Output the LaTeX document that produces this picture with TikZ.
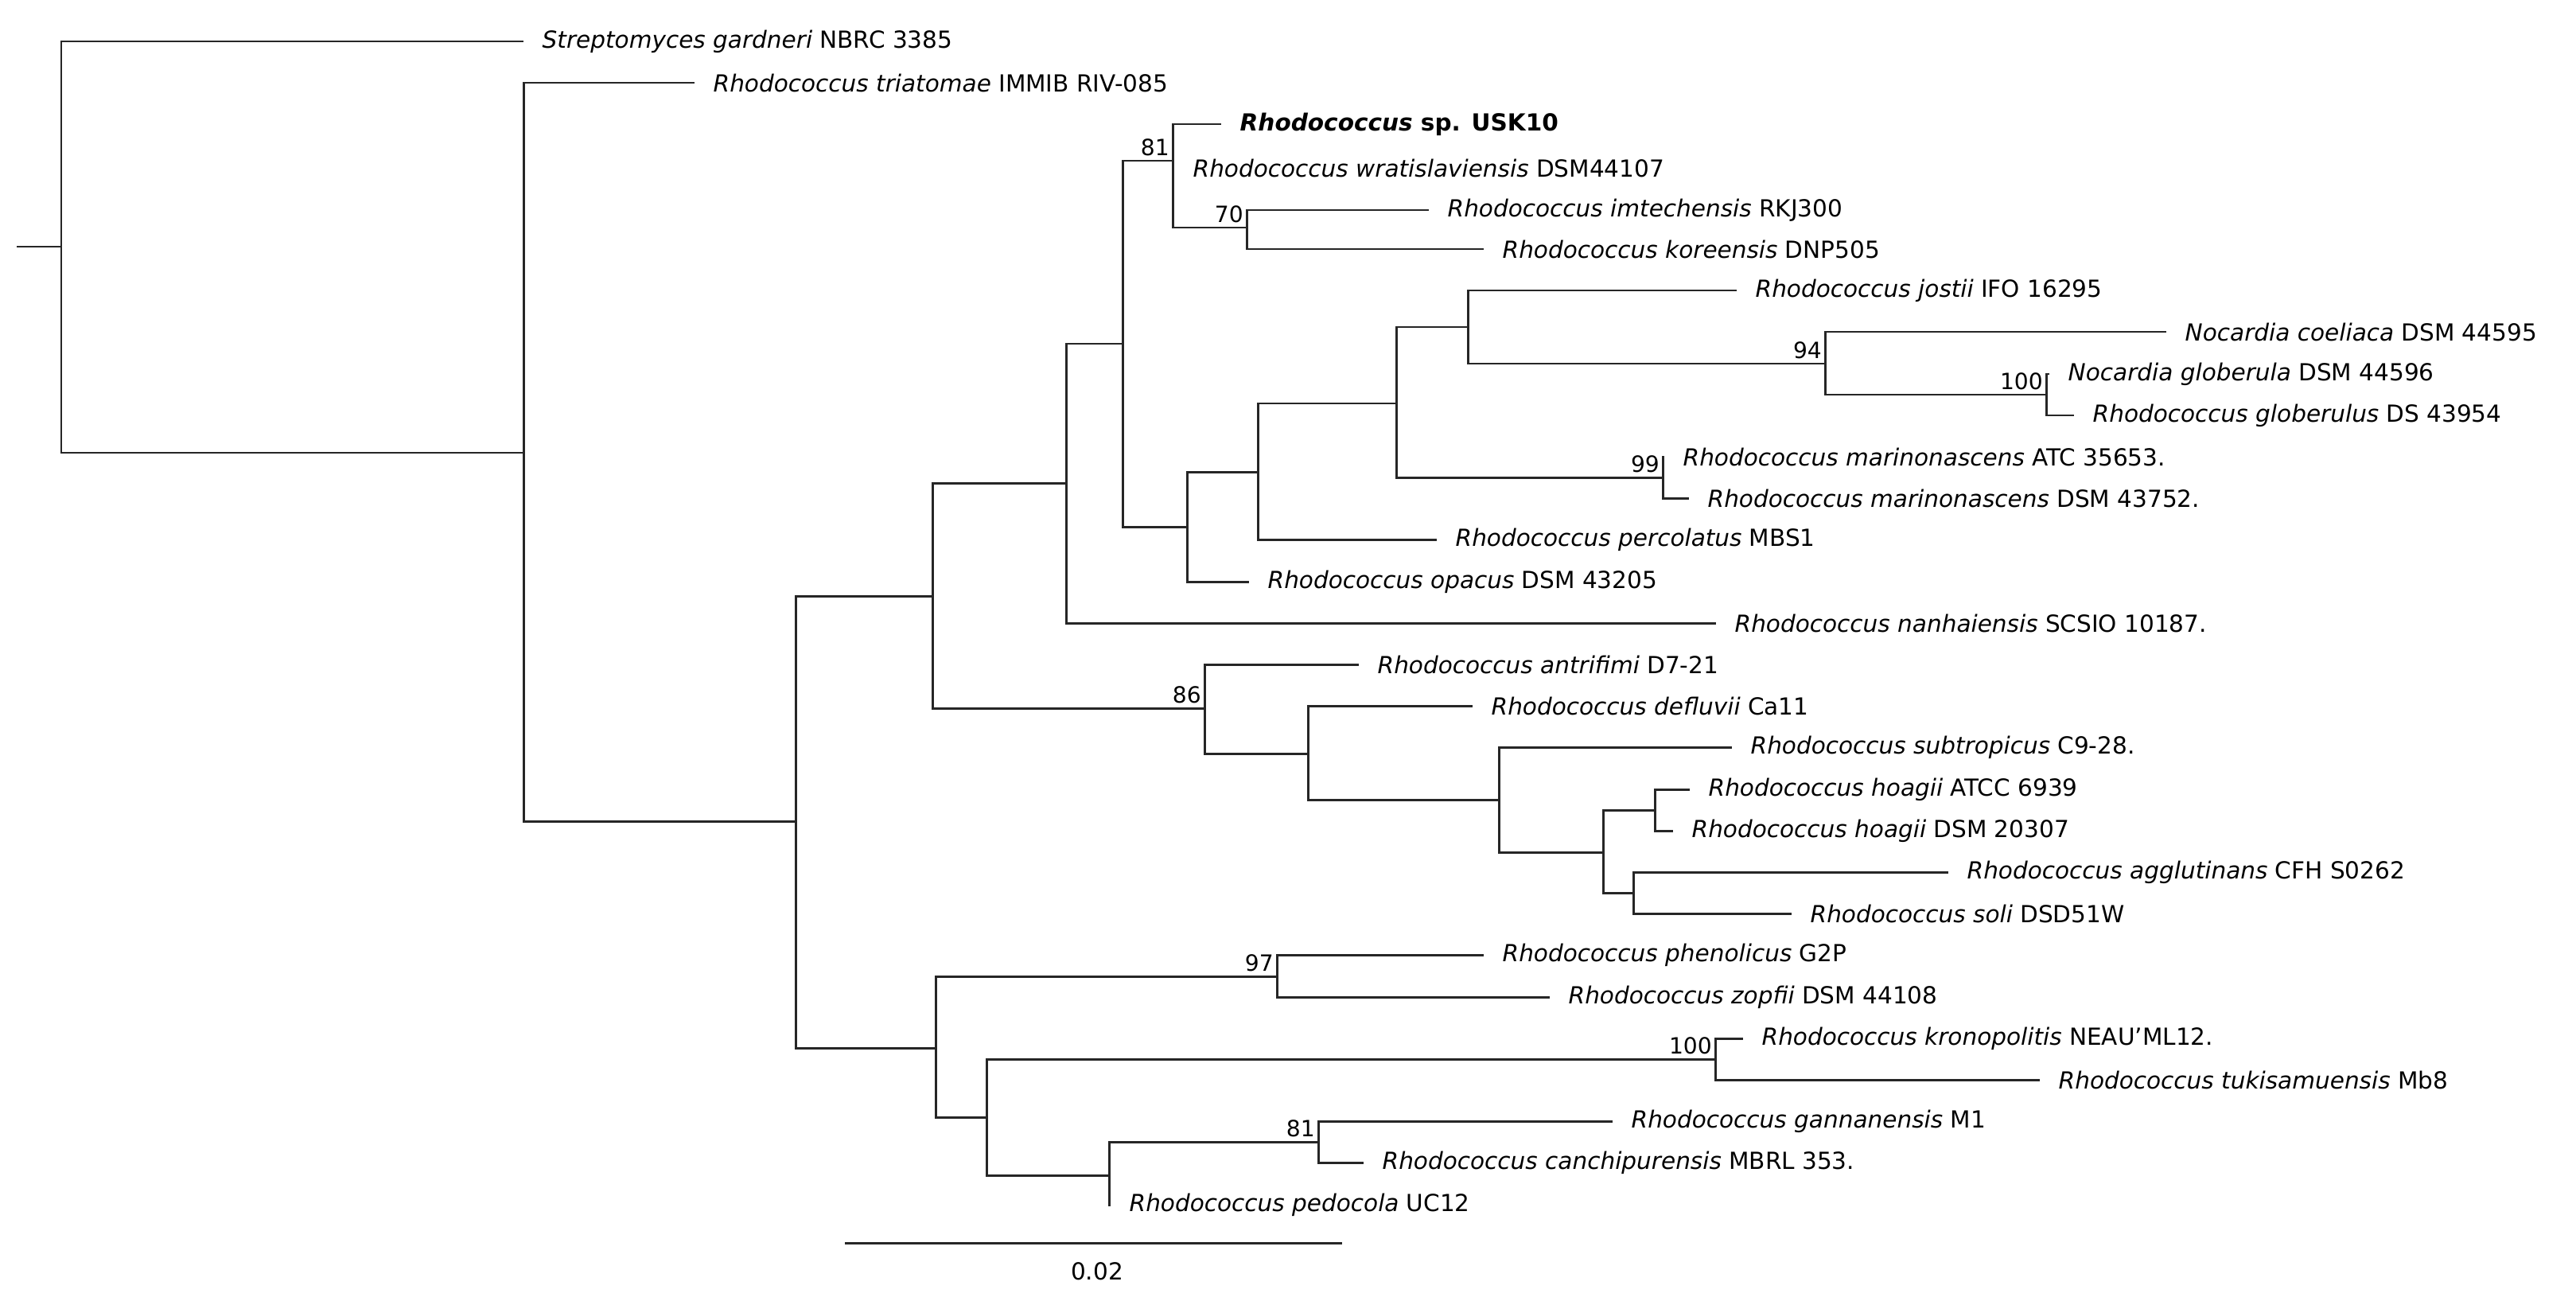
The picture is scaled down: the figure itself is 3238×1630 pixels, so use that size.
\documentclass[tikz,border=0pt]{standalone}
\usepackage{fontspec}
\setmainfont{DejaVu Sans}
\newcommand\lf[5]{%
  \coordinate (#2-e) at (#3,#4);
  \draw[br] (#1) |- (#2-e);
  \node[lab] (#2) at ([xshift=0.23cm]#2-e) {#5};}
\begin{document}
\begin{tikzpicture}[x=0.01cm,y=-0.01cm,
  br/.style={line width=0.85pt,draw=black!85},
  lab/.style={anchor=west,inner sep=0pt,font=\fontsize{8.4}{10}\selectfont},
  bs/.style={anchor=south east,inner sep=0pt,xshift=-1pt,yshift=1.5pt,font=\fontsize{8}{10}\selectfont}]
\useasboundingbox (0,0) rectangle (3238,1630);
% internal nodes
\coordinate (R0) at (21,310);
\coordinate (A) at (77,310);
\coordinate (B) at (658,569);
\coordinate (C) at (1000,1032);
\coordinate (D) at (1172,749);
\coordinate (F) at (1340,607);
\coordinate (H) at (1411,432);
\coordinate (I) at (1474,202);
\coordinate (K) at (1567,286);
\coordinate (J) at (1492,662);
\coordinate (L) at (1581,593);
\coordinate (M) at (1755,507);
\coordinate (N) at (1845,411);
\coordinate (P) at (2294,457);
\coordinate (Q) at (2572,496);
\coordinate (O) at (2090,600);
\coordinate (G) at (1514,890);
\coordinate (R) at (1644,947);
\coordinate (S) at (1884,1005);
\coordinate (T) at (2015,1071);
\coordinate (U) at (2080,1018);
\coordinate (V) at (2053,1122);
\coordinate (E) at (1176,1317);
\coordinate (W) at (1605,1227);
\coordinate (X) at (1240,1404);
\coordinate (Y) at (2156,1331);
\coordinate (Z) at (1394,1477);
\coordinate (AA) at (1657,1435);
% internal branches
\draw[br] (R0) -- (A);
\foreach \p/\c in {A/B,B/C,C/D,C/E,D/F,D/G,F/H,H/I,H/J,I/K,J/L,L/M,M/N,M/O,N/P,P/Q,G/R,R/S,S/T,T/U,T/V,E/W,E/X,X/Y,X/Z,Z/AA}
  \draw[br] (\p) |- (\c);
% leaves
\lf{A}{l0}{658}{52}{\textit{Streptomyces gardneri} NBRC 3385}
\lf{B}{l1}{873}{104}{\textit{Rhodococcus triatomae} IMMIB RIV-085}
\lf{I}{l2}{1535}{156}{\textbf{\textit{Rhodococcus} sp. USK10}}
\lf{I}{l3}{1476}{211}{\textit{Rhodococcus wratislaviensis} DSM44107}
\lf{K}{l4}{1796}{264}{\textit{Rhodococcus imtechensis} RKJ300}
\lf{K}{l5}{1865}{313}{\textit{Rhodococcus koreensis} DNP505}
\lf{N}{l6}{2183}{365}{\textit{Rhodococcus jostii} IFO 16295}
\lf{P}{l7}{2723}{417}{\textit{Nocardia coeliaca} DSM 44595}
\lf{Q}{l8}{2576}{470}{\textit{Nocardia globerula} DSM 44596}
\lf{Q}{l9}{2607}{522}{\textit{Rhodococcus globerulus} DS 43954}
\lf{O}{l10}{2092}{574}{\textit{Rhodococcus marinonascens} ATC 35653.}
\lf{O}{l11}{2123}{626}{\textit{Rhodococcus marinonascens} DSM 43752.}
\lf{L}{l12}{1806}{678}{\textit{Rhodococcus percolatus} MBS1}
\lf{J}{l13}{1570}{731}{\textit{Rhodococcus opacus} DSM 43205}
\lf{F}{l14}{2157}{783}{\textit{Rhodococcus nanhaiensis} SCSIO 10187.}
\lf{G}{l15}{1708}{835}{\textit{Rhodococcus antrifimi} D7-21}
\lf{R}{l16}{1851}{887}{\textit{Rhodococcus defluvii} Ca11}
\lf{S}{l17}{2177}{939}{\textit{Rhodococcus subtropicus} C9-28.}
\lf{U}{l18}{2124}{992}{\textit{Rhodococcus hoagii} ATCC 6939}
\lf{U}{l19}{2103}{1044}{\textit{Rhodococcus hoagii} DSM 20307}
\lf{V}{l20}{2449}{1096}{\textit{Rhodococcus agglutinans} CFH S0262}
\lf{V}{l21}{2252}{1148}{\textit{Rhodococcus soli} DSD51W}
\lf{W}{l22}{1865}{1200}{\textit{Rhodococcus phenolicus} G2P}
\lf{W}{l23}{1948}{1253}{\textit{Rhodococcus zopfii} DSM 44108}
\lf{Y}{l24}{2191}{1305}{\textit{Rhodococcus kronopolitis} NEAU'ML12.}
\lf{Y}{l25}{2564}{1357}{\textit{Rhodococcus tukisamuensis} Mb8}
\lf{AA}{l26}{2027}{1409}{\textit{Rhodococcus gannanensis} M1}
\lf{AA}{l27}{1714}{1461}{\textit{Rhodococcus canchipurensis} MBRL 353.}
\lf{Z}{l28}{1396}{1514}{\textit{Rhodococcus pedocola} UC12}
% bootstrap values
\node[bs] (b1) at (I) {81};
\node[bs] (b2) at (K) {70};
\node[bs] (b3) at (P) {94};
\node[bs] (b4) at (Q) {100};
\node[bs] (b5) at (O) {99};
\node[bs] (b6) at (G) {86};
\node[bs] (b7) at (W) {97};
\node[bs] (b8) at (Y) {100};
\node[bs] (b9) at (AA) {81};
% scale bar
\coordinate (s1) at (1062,1562);
\coordinate (s2) at (1687,1562);
\draw[br] (s1) -- (s2);
\node[lab,anchor=center] (sl) at (1379,1598) {0.02};
\end{tikzpicture}
\end{document}
